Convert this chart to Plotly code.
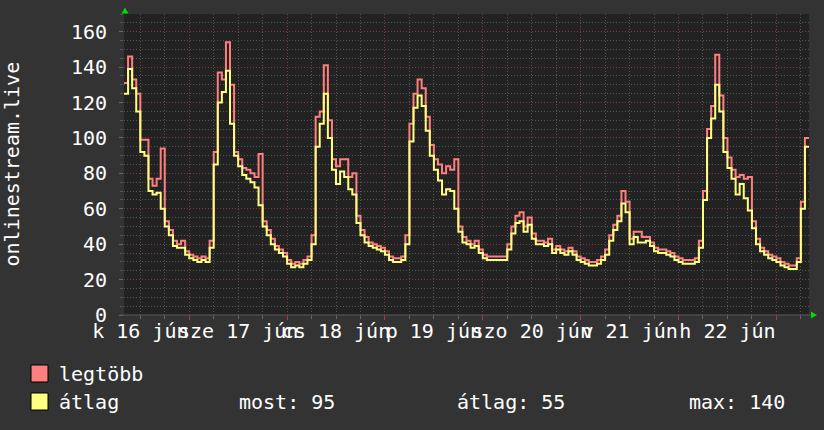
import plotly.graph_objects as go
import pandas as pd

# ---- data (hourly, starting 2020-06-16 08:00) ----
START = "2020-06-16 08:00"
atlag = [125, 139, 128, 115, 92, 90, 70, 68, 69, 60,
         50, 45, 39, 38, 38, 34, 32, 31, 30, 31,
         30, 38, 85, 120, 126, 138, 108, 90, 84, 79,
         77, 75, 72, 62, 50, 45, 40, 37, 35, 33,
         29, 27, 28, 27, 29, 31, 40, 95, 108, 125,
         100, 82, 74, 81, 78, 71, 68, 52, 45, 41,
         39, 38, 37, 36, 34, 31, 30, 30, 31, 40,
         98, 117, 124, 118, 104, 90, 82, 76, 68, 71,
         70, 60, 47, 41, 40, 38, 39, 35, 32, 31,
         31, 31, 31, 31, 37, 46, 52, 53, 47, 51,
         43, 40, 40, 39, 40, 35, 37, 35, 34, 36,
         34, 31, 30, 29, 28, 28, 29, 31, 34, 42,
         48, 53, 63, 58, 40, 44, 41, 41, 42, 39,
         36, 35, 35, 34, 33, 31, 30, 29, 29, 29,
         30, 38, 65, 100, 111, 130, 115, 92, 83, 77,
         68, 74, 66, 59, 49, 40, 36, 34, 32, 31,
         30, 28, 27, 26, 26, 30, 60, 95]
legtobb = [131, 146, 133, 125, 99, 99, 77, 73, 77, 94,
           53, 48, 42, 40, 42, 36, 34, 33, 32, 33,
           32, 42, 92, 137, 133, 154, 130, 92, 88, 83,
           82, 80, 78, 91, 53, 48, 43, 39, 37, 35,
           31, 29, 30, 29, 31, 33, 45, 112, 115, 141,
           110, 88, 84, 88, 88, 78, 80, 56, 48, 44,
           41, 40, 39, 38, 36, 33, 32, 32, 33, 45,
           108, 125, 133, 128, 112, 96, 88, 85, 80, 84,
           82, 88, 50, 44, 42, 40, 42, 37, 34, 33,
           33, 33, 33, 33, 40, 50, 56, 58, 50, 55,
           46, 42, 42, 41, 43, 37, 39, 37, 36, 38,
           36, 33, 32, 31, 30, 30, 31, 33, 37, 45,
           51, 56, 70, 64, 43, 47, 47, 44, 44, 41,
           38, 37, 37, 36, 35, 33, 32, 31, 31, 31,
           32, 42, 70, 105, 118, 147, 124, 100, 89, 82,
           78, 79, 77, 78, 53, 43, 38, 36, 34, 33,
           32, 30, 29, 28, 28, 32, 64, 100]

day_labels = ["k 16 jún", "sze 17 jún", "cs 18 jún", "p 19 jún",
              "szo 20 jún", "v 21 jún", "h 22 jún"]
y_ticks = [0, 20, 40, 60, 80, 100, 120, 140, 160]
stat_labels = ["most: 95", "átlag: 55", "max: 140"]
series_names = ["legtöbb", "átlag"]
y_title = "onlinestream.live"

# ---- derived ----
start = pd.Timestamp(START)
times = list(pd.date_range(start, periods=len(atlag), freq="h"))
end = start + pd.Timedelta(hours=len(atlag))
xs = times + [end]
noon_ticks = list(pd.date_range("2020-06-16 12:00", periods=len(day_labels), freq="D"))
midnights = list(pd.date_range("2020-06-17 00:00", periods=7, freq="D"))

W, H = 824, 430
L, R, T, B = 124, 15, 14, 115
PW, PH = W - L - R, H - T - B

def fx(px):
    return (px - L) / PW

def fy(py):
    return (H - B - py) / PH

BG = "#333333"
CANVAS = "#222222"
RED = "#FF7F7F"
YEL = "#FFFF7F"
MAJ = "#7a3c3c"
MIN = "#555555"
FONT = "DejaVu Sans Mono"

fig = go.Figure()
fig.add_trace(go.Scatter(x=xs, y=legtobb + [legtobb[-1]], mode="lines",
                         line=dict(color=RED, width=2, shape="hv"),
                         name=series_names[0], showlegend=False))
fig.add_trace(go.Scatter(x=xs, y=atlag + [atlag[-1]], mode="lines",
                         line=dict(color=YEL, width=2, shape="hv"),
                         name=series_names[1], showlegend=False))
# invisible helper trace that carries the day-label axis
fig.add_trace(go.Scatter(x=noon_ticks, y=[None] * len(noon_ticks), xaxis="x2",
                         mode="lines", showlegend=False, hoverinfo="skip"))

rng = [start, end]
fig.update_layout(
    width=W, height=H,
    margin=dict(l=L, r=R, t=T, b=B),
    paper_bgcolor=BG, plot_bgcolor=CANVAS,
    font=dict(family=FONT, size=20, color="white"),
    showlegend=False,
    xaxis=dict(type="date", range=rng, tickvals=midnights, showticklabels=False,
               showgrid=True, gridcolor=MAJ, griddash="1px,2px", gridwidth=1,
               ticks="outside", ticklen=4, tickcolor="#a04040",
               minor=dict(dtick=6 * 3600 * 1000, tick0="2020-06-16 00:00",
                          showgrid=True, gridcolor=MIN, griddash="1px,2px",
                          ticks="outside", ticklen=3, tickcolor="#666666"),
               zeroline=False, showline=False, fixedrange=True),
    xaxis2=dict(type="date", range=rng, overlaying="x", anchor="y", side="bottom",
                tickvals=noon_ticks, ticktext=day_labels, showgrid=False,
                tickangle=0, ticks="", ticklabelstandoff=2, showline=False,
                zeroline=False,
                tickfont=dict(family=FONT, size=20, color="white")),
    yaxis=dict(range=[0, 170], tickvals=y_ticks, showgrid=True, gridcolor=MAJ,
               griddash="1px,2px", ticks="outside", ticklen=4, tickcolor="#666666",
               ticklabelstandoff=8,
               minor=dict(dtick=5, showgrid=True, gridcolor=MIN, griddash="1px,2px",
                          ticks="outside", ticklen=3, tickcolor="#555555"),
               zeroline=False, showline=False,
               tickfont=dict(family=FONT, size=20, color="white")),
)

shapes = []
# axis line along the bottom
shapes.append(dict(type="line", xref="paper", yref="paper", x0=fx(120), x1=fx(812),
                   y0=0, y1=0, line=dict(color="#5a5a5a", width=1)))
# green arrows
shapes.append(dict(type="path", xref="paper", yref="paper",
                   path=f"M {fx(121.5)} {fy(13.5)} L {fx(128.5)} {fy(13.5)} L {fx(125)} {fy(7.5)} Z",
                   fillcolor="#00dd00", line=dict(width=0)))
shapes.append(dict(type="path", xref="paper", yref="paper",
                   path=f"M {fx(811)} {fy(311.5)} L {fx(811)} {fy(318.5)} L {fx(817)} {fy(315)} Z",
                   fillcolor="#00dd00", line=dict(width=0)))
# legend swatches
for (top, col) in [(365, RED), (393, YEL)]:
    shapes.append(dict(type="rect", xref="paper", yref="paper",
                       x0=fx(31), x1=fx(48), y0=fy(top), y1=fy(top + 17),
                       fillcolor=col, line=dict(color="black", width=1)))
fig.update_layout(shapes=shapes)

ann = []
ann.append(dict(text=y_title, xref="paper", yref="paper", x=fx(11), y=0.5,
                textangle=-90, showarrow=False, xanchor="center", yanchor="middle",
                font=dict(family=FONT, size=20, color="white")))
ann.append(dict(text=series_names[0], xref="paper", yref="paper", x=fx(57), y=fy(373.5),
                showarrow=False, xanchor="left", yanchor="middle",
                font=dict(family=FONT, size=20, color="white")))
ann.append(dict(text=series_names[1], xref="paper", yref="paper", x=fx(57), y=fy(401.5),
                showarrow=False, xanchor="left", yanchor="middle",
                font=dict(family=FONT, size=20, color="white")))
for lbl, px in zip(stat_labels, [237, 455, 687]):
    ann.append(dict(text=lbl, xref="paper", yref="paper", x=fx(px), y=fy(401.5),
                    showarrow=False, xanchor="left", yanchor="middle",
                    font=dict(family=FONT, size=20, color="white")))
fig.update_layout(annotations=ann)

fig.write_html("out.html")
